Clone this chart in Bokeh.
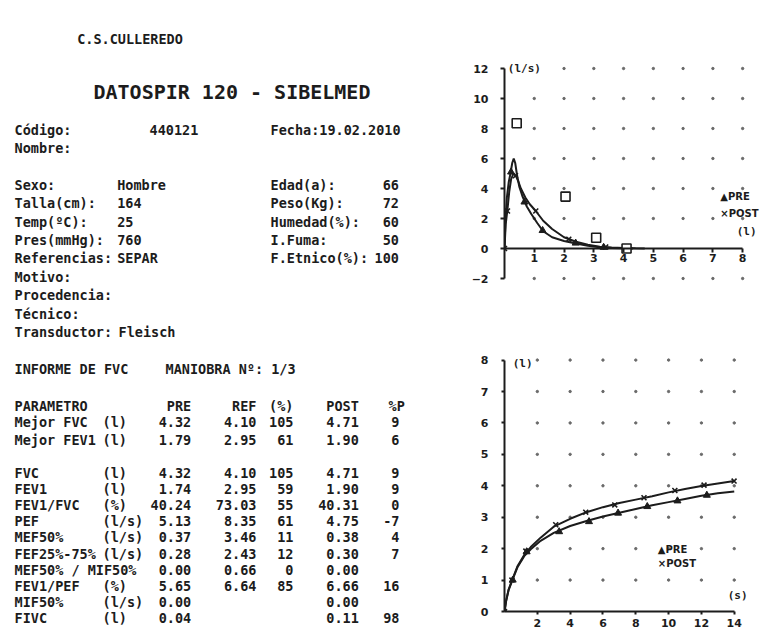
from bokeh.plotting import figure
from bokeh.layouts import row, column
from bokeh.models import Range1d, FixedTicker
from bokeh.core.properties import value
from bokeh.embed import file_html
from bokeh.resources import INLINE

MONO = "DejaVu Sans Mono"
SANS = "DejaVu Sans"
INK = "#1c1c1c"
DOT = "#6a6a6a"

# ---------------- report data ----------------
center_name = "C.S.CULLEREDO"
title = "DATOSPIR 120 - SIBELMED"
codigo = "440121"
fecha = "19.02.2010"
left_labels = ["Sexo:", "Talla(cm):", "Temp(ºC):", "Pres(mmHg):", "Referencias:"]
left_values = ["Hombre", "164", "25", "760", "SEPAR"]
right_labels = ["Edad(a):", "Peso(Kg):", "Humedad(%):", "I.Fuma:", "F.Etnico(%):"]
right_values = ["66", "72", "60", "50", "100"]
extra_labels = ["Motivo:", "Procedencia:", "Técnico:", "Transductor:"]
extra_values = ["", "", "", "Fleisch"]
maniobra = "1/3"

table_header = ["PARAMETRO", "PRE", "REF", "(%)", "POST", "%P"]
params = ["Mejor FVC", "Mejor FEV1", "FVC", "FEV1", "FEV1/FVC", "PEF", "MEF50%",
          "FEF25%-75%", "MEF50% / MIF50%", "FEV1/PEF", "MIF50%", "FIVC"]
units = ["(l)", "(l)", "(l)", "(l)", "(%)", "(l/s)", "(l/s)", "(l/s)", "", "(%)", "(l/s)", "(l)"]
pre_vals = ["4.32", "1.79", "4.32", "1.74", "40.24", "5.13", "0.37", "0.28", "0.00", "5.65", "0.00", "0.04"]
ref_vals = ["4.10", "2.95", "4.10", "2.95", "73.03", "8.35", "3.46", "2.43", "0.66", "6.64", "", ""]
pct_vals = ["105", "61", "105", "59", "55", "61", "11", "12", "0", "85", "", ""]
post_vals = ["4.71", "1.90", "4.71", "1.90", "40.31", "4.75", "0.38", "0.30", "0.00", "6.66", "0.00", "0.11"]
pctp_vals = ["9", "6", "9", "9", "0", "-7", "4", "7", "", "16", "", "98"]

# ---------------- flow-volume data ----------------
flow_xticks = [1, 2, 3, 4, 5, 6, 7, 8]
flow_yticks = [-2, 0, 2, 4, 6, 8, 10, 12]
pre_fv_vol = [0, 0.03, 0.08, 0.14, 0.2, 0.26, 0.31, 0.36, 0.42, 0.5, 0.6, 0.75, 0.9, 1.1,
              1.3, 1.6, 2.0, 2.4, 2.8, 3.2, 3.6, 4.0, 4.32]
pre_fv_flow = [0, 1.8, 3.4, 4.4, 5.0, 5.7, 6.0, 5.7, 4.9, 4.1, 3.5, 2.8, 2.3, 1.7,
               1.15, 0.75, 0.5, 0.33, 0.18, 0.09, 0.04, 0.02, 0]
post_fv_vol = [0, 0.04, 0.1, 0.16, 0.22, 0.3, 0.38, 0.46, 0.55, 0.7, 0.85, 1.05, 1.3,
               1.6, 2.0, 2.4, 2.8, 3.2, 3.6, 4.0, 4.4, 4.71]
post_fv_flow = [0, 1.6, 2.6, 3.8, 4.6, 5.0, 4.85, 4.5, 4.0, 3.4, 2.95, 2.5, 1.85,
                1.3, 0.75, 0.45, 0.25, 0.12, 0.06, 0.03, 0.01, 0]
pre_fv_mark_vol = [0.22, 0.67, 1.28, 2.39, 3.33]
pre_fv_mark_flow = [5.1, 3.1, 1.2, 0.36, 0.08]
post_fv_mark_vol = [0.0, 0.1, 0.37, 1.05, 2.16, 3.4]
post_fv_mark_flow = [0.0, 2.5, 4.85, 2.5, 0.62, 0.1]
ref_fv_vol = [0.41, 2.05, 3.08, 4.10]
ref_fv_flow = [8.35, 3.46, 0.72, 0.0]

# ---------------- volume-time data ----------------
vt_xticks = [2, 4, 6, 8, 10, 12, 14]
vt_yticks = [0, 1, 2, 3, 4, 5, 6, 7, 8]
vt_time = [0, 0.1, 0.25, 0.5, 0.8, 1.2, 1.6, 2.2, 3.0, 4.0, 5.0, 6.0, 7.0, 8.0, 9.0,
           10, 11, 12, 13, 14]
post_vt = [0, 0.35, 0.7, 1.05, 1.45, 1.8, 2.05, 2.35, 2.7, 2.95, 3.16, 3.32, 3.45,
           3.56, 3.67, 3.79, 3.9, 3.99, 4.07, 4.15]
pre_vt = [0, 0.33, 0.68, 1.02, 1.42, 1.76, 1.98, 2.25, 2.5, 2.72, 2.88, 3.02, 3.14,
          3.26, 3.38, 3.48, 3.58, 3.68, 3.76, 3.82]
pre_vt_mark_t = [0, 0.5, 1.35, 3.33, 5.15, 6.92, 8.7, 10.54, 12.33]
pre_vt_mark_v = [0, 1.0, 1.9, 2.54, 2.86, 3.13, 3.34, 3.52, 3.7]
post_vt_mark_t = [0, 0.45, 1.3, 3.12, 4.95, 6.72, 8.5, 10.38, 12.16, 13.99]
post_vt_mark_v = [0, 1.0, 1.92, 2.76, 3.16, 3.39, 3.62, 3.85, 4.02, 4.15]


def put(fig, xs, ys, texts, size="13.5px", align="left", font=MONO):
    fig.text(x=xs, y=ys, text=texts, text_font=value(font), text_font_style="bold",
             text_font_size=size, text_align=align, text_baseline="middle",
             text_color=INK)


# ================= text panel =================
txt = figure(width=455, height=638, x_range=Range1d(0, 455), y_range=Range1d(638, 0),
             x_axis_type=None, y_axis_type=None, toolbar_location=None,
             output_backend="svg", min_border=0, outline_line_color=None)
txt.background_fill_color = "white"
txt.border_fill_color = "white"

put(txt, [76.7], [38.3], [center_name])
put(txt, [93], [91.7], [title], size="20px")
put(txt, [14, 149, 270], [129, 129, 129], ["Código:", codigo, "Fecha:" + fecha])
put(txt, [14], [147.7], ["Nombre:"])

ry = [184.3 + 18.4 * i for i in range(9)]
put(txt, [14] * 5, ry[:5], left_labels)
put(txt, [116.7] * 5, ry[:5], left_values)
put(txt, [270] * 5, ry[:5], right_labels)
put(txt, [398.5] * 5, ry[:5], right_values, align="right")
put(txt, [14] * 4, ry[5:], extra_labels)
put(txt, [118] * 4, ry[5:], extra_values)

put(txt, [14, 165], [368.3, 368.3], ["INFORME DE FVC", "MANIOBRA Nº: " + maniobra])

hy = 405
put(txt, [14], [hy], [table_header[0]])
put(txt, [190.7, 256, 293, 358.3], [hy] * 4, table_header[1:5], align="right")
put(txt, [388], [hy], [table_header[5]])

ty = [421.7, 439.0] + [472.7 + 16.07 * i for i in range(10)]
put(txt, [14] * 12, ty, params)
put(txt, [102] * 12, ty, units)
put(txt, [190.7] * 12, ty, pre_vals, align="right")
put(txt, [256] * 12, ty, ref_vals, align="right")
put(txt, [293] * 12, ty, pct_vals, align="right")
put(txt, [358.3] * 12, ty, post_vals, align="right")
put(txt, [399] * 12, ty, pctp_vals, align="right")


def style_axes(fig, xticks, yticks, xb, yb, xstand, ystand):
    fig.xaxis.ticker = FixedTicker(ticks=xticks)
    fig.yaxis.ticker = FixedTicker(ticks=yticks)
    fig.xaxis.bounds = xb
    fig.yaxis.bounds = yb
    for ax in (fig.xaxis, fig.yaxis):
        ax.axis_line_width = 2
        ax.axis_line_color = INK
        ax.major_tick_line_color = INK
        ax.major_tick_line_width = 2
        ax.major_tick_in = 0
        ax.major_tick_out = 4
        ax.minor_tick_line_color = None
        ax.major_label_text_font = SANS
        ax.major_label_text_font_style = "bold"
        ax.major_label_text_font_size = "11px"
        ax.major_label_text_color = INK
    fig.xaxis.major_label_standoff = xstand
    fig.yaxis.major_label_standoff = ystand
    fig.grid.visible = False
    fig.outline_line_color = None
    fig.background_fill_color = "white"
    fig.border_fill_color = "white"


# ================= flow-volume =================
flow = figure(width=305, height=314, x_range=Range1d(0, 8.6), y_range=Range1d(-2.4, 12.6),
              output_backend="svg", toolbar_location=None,
              min_border_left=47, min_border_right=0, min_border_top=59, min_border_bottom=30)
flow.xaxis.fixed_location = 0
style_axes(flow, flow_xticks, flow_yticks, (0, 8), (-2, 12), 1, 12)

gx = [x for x in flow_xticks for y in flow_yticks if y != 0 and not (x == 1 and y == 12)]
gy = [y for x in flow_xticks for y in flow_yticks if y != 0 and not (x == 1 and y == 12)]
flow.scatter(gx, gy, size=2.4, color=DOT)

flow.line(pre_fv_vol, pre_fv_flow, line_width=2, color=INK)
flow.line(post_fv_vol, post_fv_flow, line_width=2, color=INK)
flow.scatter(pre_fv_mark_vol, pre_fv_mark_flow, marker="triangle", size=7,
             fill_color=INK, line_color=INK)
flow.scatter(post_fv_mark_vol, post_fv_mark_flow, marker="x", size=7,
             line_color=INK, line_width=1.6)
flow.scatter(ref_fv_vol, ref_fv_flow, marker="square", size=9, fill_color="white",
             line_color=INK, line_width=1.6)

put(flow, [0.11], [12.0], ["(l/s)"], size="11px")
put(flow, [7.8], [1.11], ["(l)"], size="11px")
put(flow, [7.25, 7.25], [3.5, 2.33], ["▲PRE", "×POST"], size="10px", font=SANS)

# ================= volume-time =================
vol = figure(width=305, height=324, x_range=Range1d(0, 15.6), y_range=Range1d(0, 8.4),
             output_backend="svg", toolbar_location=None,
             min_border_left=49, min_border_right=0, min_border_top=33, min_border_bottom=27)
style_axes(vol, vt_xticks, vt_yticks, (0, 14), (0, 8), 4, 13)
vol.xaxis.major_tick_out = 3
vol.yaxis.major_tick_out = 3

vgx = [x for x in vt_xticks for y in vt_yticks if y != 0]
vgy = [y for x in vt_xticks for y in vt_yticks if y != 0]
vol.scatter(vgx, vgy, size=2.4, color=DOT)

vol.line(vt_time, post_vt, line_width=2, color=INK)
vol.line(vt_time, pre_vt, line_width=2, color=INK)
vol.scatter(pre_vt_mark_t, pre_vt_mark_v, marker="triangle", size=7,
            fill_color=INK, line_color=INK)
vol.scatter(post_vt_mark_t, post_vt_mark_v, marker="x", size=7,
            line_color=INK, line_width=1.6)

put(vol, [0.5], [7.9], ["(l)"], size="11px")
put(vol, [13.6], [0.51], ["(s)"], size="11px")
put(vol, [9.34, 9.34], [1.96, 1.54], ["▲PRE", "×POST"], size="10px", font=SANS)

layout = row(txt, column(flow, vol))
open("out.html", "w").write(file_html(layout, INLINE))
